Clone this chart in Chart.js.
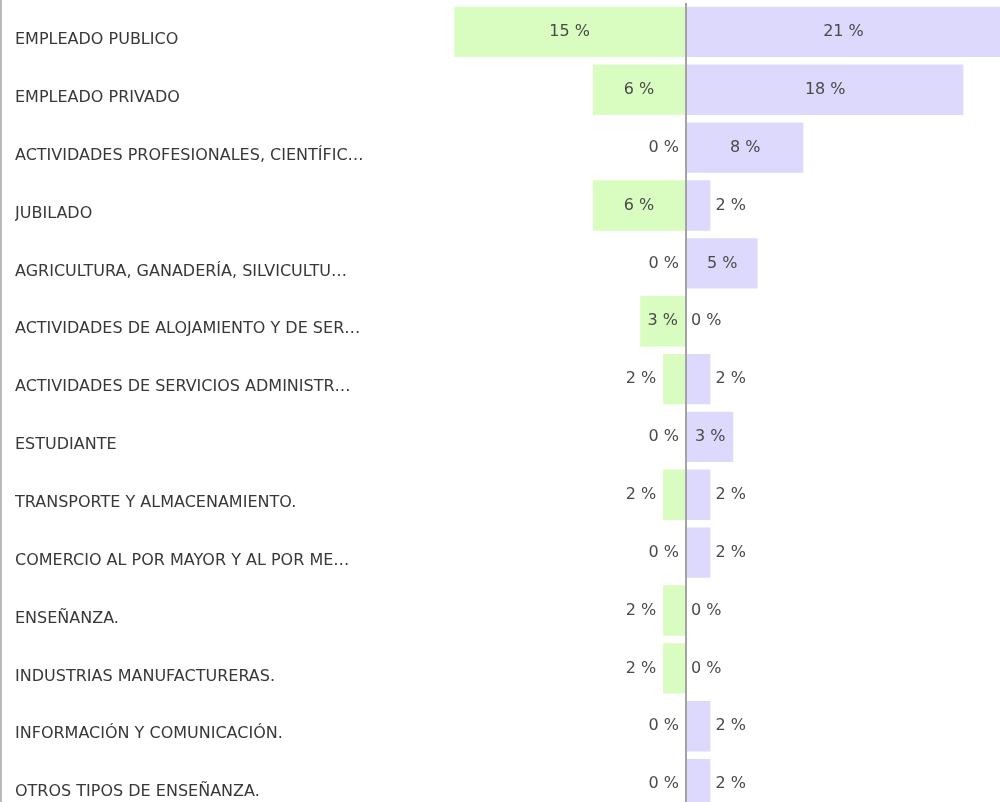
<!DOCTYPE html>
<html>
<head>
<meta charset="utf-8">
<script src="https://cdn.jsdelivr.net/npm/chart.js@4.4.1/dist/chart.umd.min.js"></script>
<style>
  html, body { margin: 0; padding: 0; background: #fff; overflow: hidden; }
  #wrap { width: 998px; height: 802px; border-left: 2px solid #b9b9b9; overflow: hidden; }
  #wrap canvas { display: block; }
</style>
</head>
<body>
<div id="wrap"><canvas id="chart" width="998" height="814"></canvas></div>
<script>
const categories = [
  "EMPLEADO PUBLICO",
  "EMPLEADO PRIVADO",
  "ACTIVIDADES PROFESIONALES, CIENTÍFIC…",
  "JUBILADO",
  "AGRICULTURA, GANADERÍA, SILVICULTU…",
  "ACTIVIDADES DE ALOJAMIENTO Y DE SER…",
  "ACTIVIDADES DE SERVICIOS ADMINISTR…",
  "ESTUDIANTE",
  "TRANSPORTE Y ALMACENAMIENTO.",
  "COMERCIO AL POR MAYOR Y AL POR ME…",
  "ENSEÑANZA.",
  "INDUSTRIAS MANUFACTURERAS.",
  "INFORMACIÓN Y COMUNICACIÓN.",
  "OTROS TIPOS DE ENSEÑANZA."
];

// percentages, green series drawn to the left of the axis
const leftValues = [15.2, 6.1, 0, 6.1, 0, 3.0, 1.5, 0, 1.5, 0, 1.5, 1.5, 0, 0];
// percentages, purple series drawn to the right
const rightValues = [21.0, 18.2, 7.7, 1.6, 4.7, 0, 1.6, 3.1, 1.6, 1.6, 0, 0, 1.6, 1.6];

const labelFont = '16px "DejaVu Sans"';

// writes "n %" inside the bar when it fits, otherwise just outside its end
const valueLabels = {
  id: "valueLabels",
  afterDatasetsDraw(chart) {
    const ctx = chart.ctx;
    const area = chart.chartArea;
    ctx.save();
    ctx.font = labelFont;
    ctx.fillStyle = "#4a4a4a";
    ctx.textBaseline = "middle";
    chart.data.datasets.forEach((ds, di) => {
      const src = di === 0 ? leftValues : rightValues;
      chart.getDatasetMeta(di).data.forEach((bar, i) => {
        const text = Math.round(src[i]) + " %";
        const tw = ctx.measureText(text).width;
        const base = bar.base;
        const end = Math.max(area.left, Math.min(area.right, bar.x));
        const w = Math.abs(end - base);
        let x;
        if (w >= tw + 10) {
          ctx.textAlign = "center";
          x = (base + end) / 2;
        } else if (di === 0) {
          ctx.textAlign = "right";
          x = end - 7;
        } else {
          ctx.textAlign = "left";
          x = end + 5;
        }
        ctx.fillText(text, x, bar.y);
      });
    });
    ctx.restore();
  }
};

const ctx = document.getElementById("chart");

new Chart(ctx, {
  type: "bar",
  data: {
    labels: categories,
    datasets: [
      {
        label: "izquierda",
        data: leftValues.map((v) => (v === 0 ? 0 : -v)),
        backgroundColor: "#d9fcc0",
        borderWidth: 0,
        grouped: false,
        categoryPercentage: 1,
        barPercentage: 0.87,
      },
      {
        label: "derecha",
        data: rightValues,
        backgroundColor: "#dcd9fd",
        borderWidth: 0,
        grouped: false,
        categoryPercentage: 1,
        barPercentage: 0.87,
      },
    ],
  },
  options: {
    indexAxis: "y",
    responsive: false,
    animation: false,
    layout: { padding: { left: 13, top: 3, right: 0, bottom: 1 } },
    plugins: {
      legend: { display: false },
      tooltip: { enabled: false },
    },
    scales: {
      x: {
        min: -17.45,
        max: 20.6,
        ticks: { display: false, stepSize: 5 },
        border: { display: false },
        grid: {
          drawTicks: false,
          z: 1,
          lineWidth: 2,
          color: (c) => (c.tick && c.tick.value === 0 ? "#a3a3a3" : "rgba(0,0,0,0)"),
        },
      },
      y: {
        border: { display: false },
        grid: { display: false, drawTicks: false },
        afterFit: (scale) => {
          scale.width = 405;
          scale.paddingTop = 0;
          scale.paddingBottom = 0;
        },
        ticks: {
          crossAlign: "far",
          labelOffset: 8,
          color: "#383838",
          font: { family: "DejaVu Sans", size: 16 },
        },
      },
    },
  },
  plugins: [valueLabels],
});
</script>
</body>
</html>
